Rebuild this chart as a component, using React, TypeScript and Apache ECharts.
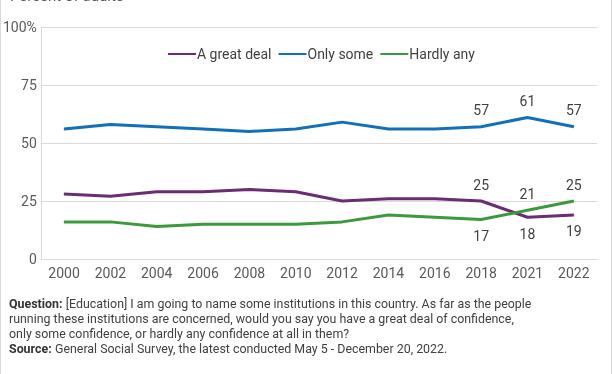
import React, { useEffect, useRef } from "react";
import * as echarts from "echarts";

const years = ["2000", "2002", "2004", "2006", "2008", "2010", "2012", "2014", "2016", "2018", "2021", "2022"];
const greatDeal = [28, 27, 29, 29, 30, 29, 25, 26, 26, 25, 18, 19];
const onlySome = [56, 58, 57, 56, 55, 56, 59, 56, 56, 57, 61, 57];
const hardlyAny = [16, 16, 14, 15, 15, 15, 16, 19, 18, 17, 21, 25];
const greatDealLabelPos = ["top", "bottom", "bottom"];
const hardlyAnyLabelPos = ["bottom", "top", "top"];
const labeledFrom = 9;

const FONT = "Roboto, 'Noto Sans', sans-serif";
const LABEL_COLOR = "#404040";

function mkData(values: number[], positions: string[] | null) {
  return values.map((v, i) => {
    if (i < labeledFrom) return { value: v, label: { show: false } };
    const pos = positions ? positions[i - labeledFrom] : "top";
    return { value: v, label: { show: true, position: pos, distance: 9 } };
  });
}

export default function App() {
  const ref = useRef<HTMLDivElement>(null);
  useEffect(() => {
    if (!ref.current) return;
    const chart = echarts.init(ref.current, null, { renderer: "svg" });
    const lineSeries = (name: string, color: string, data: any[]) => ({
      name,
      type: "line",
      data,
      symbol: "circle",
      symbolSize: 1,
      showSymbol: true,
      lineStyle: { color, width: 3 },
      itemStyle: { color },
      label: { color: LABEL_COLOR, fontSize: 14, fontFamily: FONT },
    });
    chart.setOption({
      animation: false,
      textStyle: { fontFamily: FONT },
      grid: { left: 40, right: 15, top: 27, bottom: 115 },
      legend: {
        top: 42,
        left: 163,
        itemGap: 7,
        itemWidth: 28,
        itemHeight: 14,
        icon: "path://M0,6 L28,6 L28,8 L0,8 Z",
        textStyle: { fontSize: 14, color: LABEL_COLOR, fontFamily: FONT, padding: [0, 0, 0, -4] },
        data: ["A great deal", "Only some", "Hardly any"],
      },
      xAxis: {
        type: "category",
        data: years,
        boundaryGap: true,
        axisLine: { lineStyle: { color: "#d9d9d9" } },
        axisTick: { show: false },
        axisLabel: { color: "#595959", fontSize: 14, fontFamily: FONT, margin: 7 },
      },
      yAxis: {
        type: "value",
        min: 0,
        max: 100,
        interval: 25,
        axisLine: { show: true, lineStyle: { color: "#d9d9d9" } },
        axisTick: { show: false },
        splitLine: { lineStyle: { color: "#d9d9d9" } },
        axisLabel: {
          color: "#595959",
          fontSize: 14,
          fontFamily: FONT,
          margin: 4,
          formatter: (v: number) => (v === 100 ? "100%" : String(v)),
        },
      },
      graphic: [
        {
          type: "text",
          left: 10,
          top: -12,
          style: { text: "Percent of adults", fontSize: 15, fill: "#595959", fontFamily: FONT },
        },
        {
          type: "text",
          left: 9,
          top: 297,
          style: {
            rich: {
              b: { fontWeight: "bold", fontSize: 12.4, fill: "#333333", fontFamily: FONT, lineHeight: 15 },
              n: { fontSize: 12.4, fill: "#404040", fontFamily: FONT, lineHeight: 15 },
            },
            text:
              "{b|Question:} {n|[Education] I am going to name some institutions in this country. As far as the people}\n" +
              "{n|running these institutions are concerned, would you say you have a great deal of confidence,}\n" +
              "{n|only some confidence, or hardly any confidence at all in them?}\n" +
              "{b|Source:} {n|General Social Survey, the latest conducted May 5 - December 20, 2022.}",
          },
        },
        { type: "line", shape: { x1: 0.5, y1: 0, x2: 0.5, y2: 374 }, style: { stroke: "#d9d9d9", lineWidth: 1 } },
        { type: "line", shape: { x1: 611.5, y1: 0, x2: 611.5, y2: 374 }, style: { stroke: "#d9d9d9", lineWidth: 1 } },
      ],
      series: [
        lineSeries("A great deal", "#6b2c73", mkData(greatDeal, greatDealLabelPos)),
        lineSeries("Only some", "#1170b8", mkData(onlySome, null)),
        lineSeries("Hardly any", "#3c9a3c", mkData(hardlyAny, hardlyAnyLabelPos)),
      ],
    });
    return () => chart.dispose();
  }, []);
  return <div ref={ref} style={{ position: "fixed", left: 0, top: 0, width: 612, height: 374 }} />;
}
